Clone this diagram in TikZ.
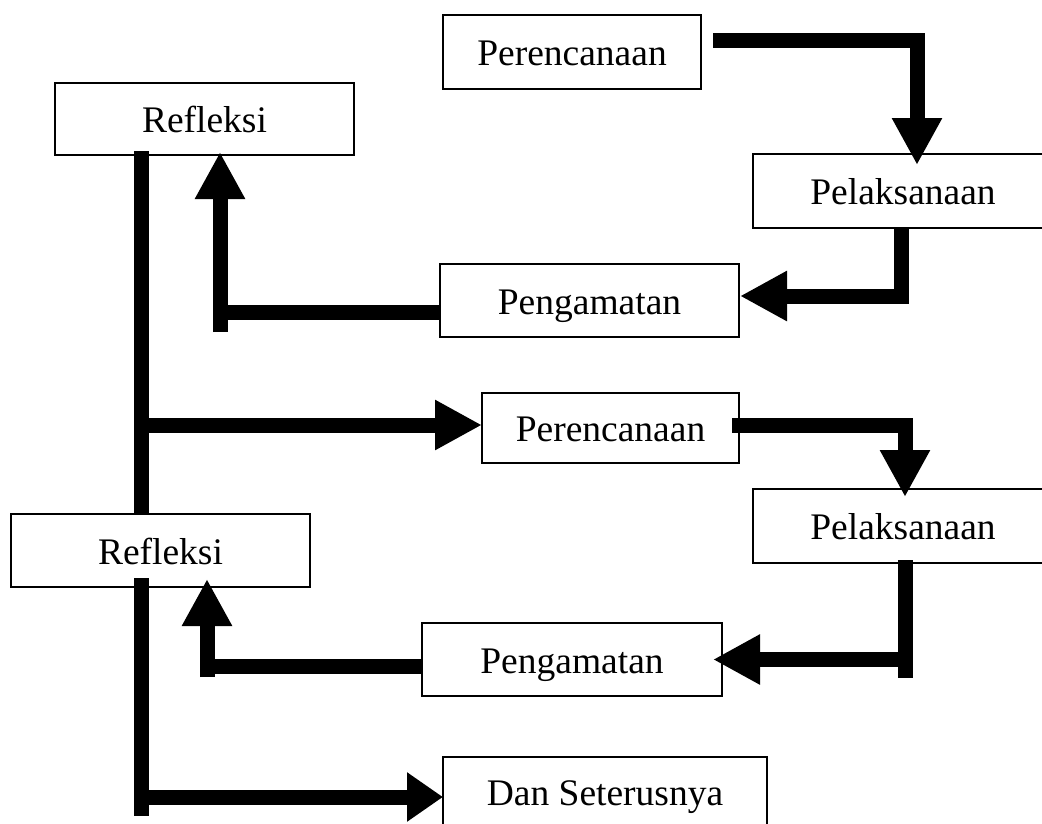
\documentclass[tikz,border=0pt]{standalone}
\usepackage{fontspec}
\setmainfont{Liberation Serif}
\usetikzlibrary{positioning,arrows.meta}
\tikzstyle{block} = [draw, fill=white, rectangle, line width=2.3pt,
    minimum height=73pt, minimum width=299pt, inner sep=0pt, outer sep=0pt,
    font=\fontsize{37.5pt}{45pt}\selectfont, text height=27pt, text depth=0pt]
\tikzstyle{link} = [line width=15pt, line cap=butt, line join=miter]

\begin{document}
\begin{tikzpicture}[x=1pt, y=-1pt, >={Triangle[length=47pt,width=47pt]}]
    \useasboundingbox (0,0) rectangle (1042,823);
    % First the blocks of the first cycle
    \node [block, minimum width=258pt, minimum height=74pt] (plan1) at (572,52) {Perencanaan};
    \node [block, minimum width=300pt, minimum height=74pt, below right=65pt and 52pt of plan1] (exec1) {Pelaksanaan};
    \node [block, below left=36pt and 14pt of exec1] (obs1) {Pengamatan};
    \node [block, minimum height=72pt, above left=109pt and 86pt of obs1] (refl1) {Refleksi};
    % Then the blocks of the second cycle
    \node [block, minimum width=257pt, minimum height=70pt, below left=56pt and 0pt of obs1.south east] (plan2) {Perencanaan};
    \node [block, minimum width=300pt, minimum height=74pt, below right=26pt and 14pt of plan2] (exec2) {Pelaksanaan};
    \node [block, minimum width=300pt, below left=60pt and 31pt of exec2] (obs2) {Pengamatan};
    \node [block, above left=36pt and 112pt of obs2] (refl2) {Refleksi};
    \node [block, minimum width=324pt, minimum height=69pt, below right=61pt and 21pt of obs2.south west] (next) {Dan Seterusnya};
    % Corners where the thick lines turn
    \coordinate (foot1) at (220,332);
    \coordinate (branch) at (141,425);
    \coordinate (foot2) at (905,678);
    \coordinate (foot3) at (207,677);
    \coordinate (foot4) at (141,816);
    \coordinate (bend4) at (141,797);
    % We draw the arrows of the first cycle
    \draw [link, ->] ([xshift=12pt,yshift=12pt]plan1.east) -| ([xshift=14pt,yshift=-11pt]exec1.north);
    \draw [link, ->] ([xshift=-2pt]exec1.south) |- ([xshift=1pt,yshift=4.5pt]obs1.east);
    \draw [link] ([yshift=-11.5pt]obs1.west) -| (foot1);
    \draw [link, ->] (foot1) -- ([xshift=15.5pt,yshift=3pt]refl1.south);
    % The line from one reflection to the next
    \draw [link] ([xshift=-63.5pt,yshift=4pt]refl1.south) -- ([xshift=-19.5pt]refl2.north);
    \draw [link, ->] (branch) -- (branch -| plan2.west);
    % We draw the arrows of the second cycle
    \draw [link, ->] ([xshift=-7pt,yshift=3pt]plan2.east) -| ([xshift=2pt,yshift=-8pt]exec2.north);
    \draw [link] ([xshift=2pt,yshift=3pt]exec2.south) -- (foot2);
    \draw [link, ->] (foot2 |- obs2.east) -- ([xshift=-9pt]obs2.east);
    \draw [link] ([yshift=-6.5pt]obs2.west) -| (foot3);
    \draw [link, ->] (foot3) -- ([xshift=46.5pt,yshift=8pt]refl2.south);
    \draw [link] ([xshift=-19.5pt,yshift=9pt]refl2.south) -- (foot4);
    \draw [link, -{Triangle[length=36pt,width=47pt]}] (bend4) -- (bend4 -| next.west);
\end{tikzpicture}
\end{document}
